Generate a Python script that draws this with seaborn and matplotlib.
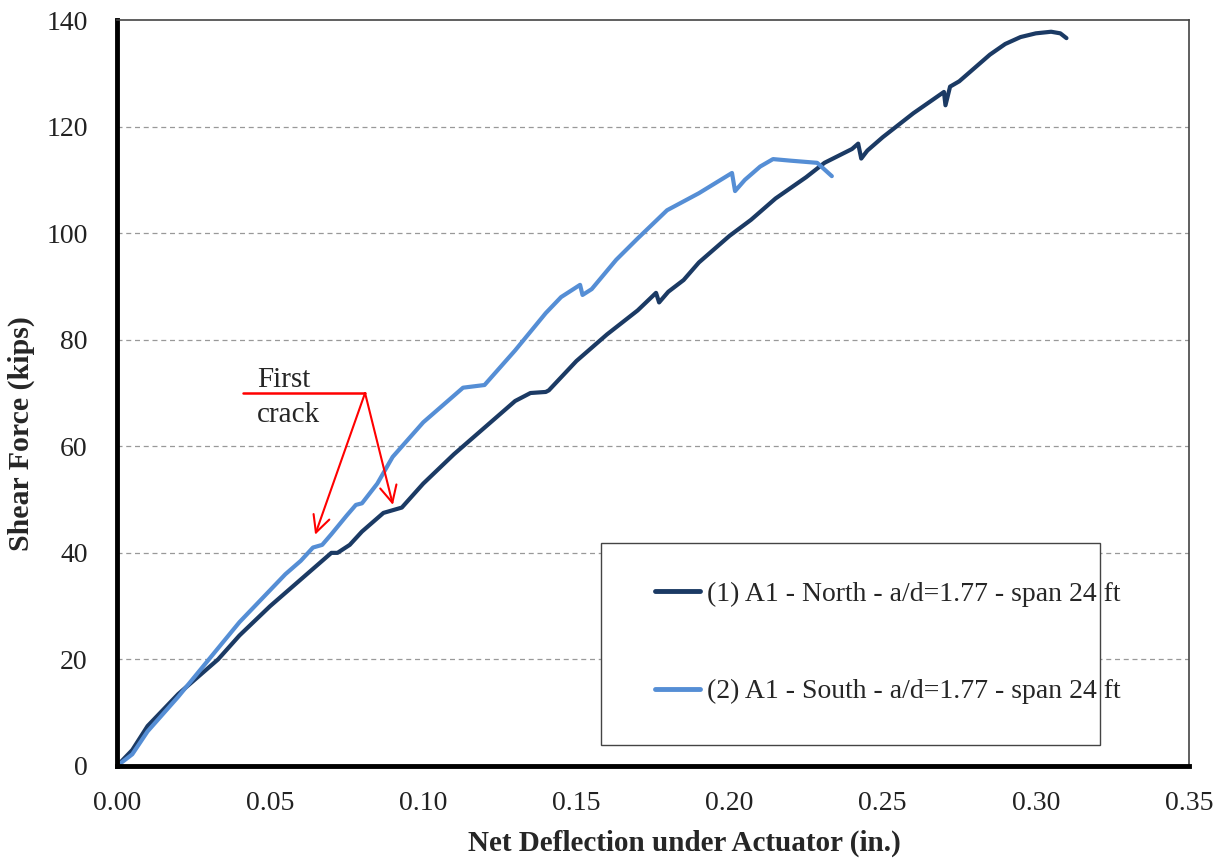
import numpy as np
import pandas as pd
import matplotlib
matplotlib.use("Agg")
import matplotlib.pyplot as plt
from matplotlib.patches import Rectangle
import seaborn as sns

# ---- data ----
north_x = [0.000, 0.005, 0.010, 0.020, 0.033, 0.040, 0.050, 0.060, 0.065, 0.070, 0.072, 0.076,
           0.080, 0.087, 0.090, 0.093, 0.100, 0.110, 0.120, 0.130, 0.135, 0.140, 0.141,
           0.150, 0.160, 0.170, 0.176, 0.177, 0.180, 0.185, 0.190, 0.200, 0.207, 0.215,
           0.225, 0.231, 0.240, 0.242, 0.243, 0.245, 0.250, 0.260, 0.270, 0.2705, 0.272,
           0.275, 0.280, 0.285, 0.290, 0.295, 0.300, 0.305, 0.308, 0.310]
north_y = [0.0, 3.0, 7.5, 13.5, 20.0, 24.5, 30.0, 35.0, 37.5, 40.0, 40.0, 41.5,
           44.0, 47.5, 48.0, 48.5, 53.0, 58.5, 63.5, 68.5, 70.0, 70.2, 70.5,
           76.0, 81.0, 85.5, 88.8, 87.0, 89.0, 91.2, 94.5, 99.5, 102.5, 106.5,
           110.5, 113.2, 115.8, 116.8, 114.0, 115.5, 118.0, 122.5, 126.5, 124.0, 127.5,
           128.5, 131.0, 133.5, 135.5, 136.8, 137.5, 137.8, 137.5, 136.6]

south_x = [0.000, 0.005, 0.010, 0.020, 0.030, 0.040, 0.050, 0.055, 0.060, 0.064, 0.067,
           0.070, 0.075, 0.078, 0.080, 0.085, 0.090, 0.100, 0.110, 0.113, 0.120, 0.130,
           0.140, 0.145, 0.1512, 0.152, 0.155, 0.163, 0.170, 0.1796, 0.190, 0.2008,
           0.2018, 0.205, 0.210, 0.2142, 0.220, 0.2286, 0.2334]
south_y = [0.0, 2.2, 6.5, 13.0, 20.0, 27.0, 33.0, 36.0, 38.5, 41.0, 41.5,
           43.5, 47.0, 49.0, 49.3, 53.0, 58.0, 64.5, 69.5, 71.0, 71.5, 78.0,
           85.0, 88.0, 90.3, 88.4, 89.5, 95.0, 99.0, 104.3, 107.5, 111.3,
           107.9, 110.0, 112.5, 113.9, 113.6, 113.2, 110.7]

labels = ["(1) A1 - North - a/d=1.77 - span 24 ft",
          "(2) A1 - South - a/d=1.77 - span 24 ft"]
colors = ["#1B3A64", "#558ED5"]

df = pd.concat([
    pd.DataFrame({"x": north_x, "y": north_y, "series": labels[0]}),
    pd.DataFrame({"x": south_x, "y": south_y, "series": labels[1]}),
])

sns.set_theme(style="white")
plt.rcParams["font.family"] = ["Liberation Serif", "DejaVu Serif"]

fig = plt.figure(figsize=(12.26, 8.63), dpi=100)
ax = fig.add_axes([0.0954, 0.1124, 0.8744, 0.8644])

sns.lineplot(data=df, x="x", y="y", hue="series", palette=colors, sort=False,
             estimator=None, linewidth=3.0, ax=ax, legend=True)

ax.set_xlim(0, 0.35)
ax.set_ylim(0, 140)
ax.set_xticks(np.arange(0, 0.351, 0.05))
ax.set_xticklabels([f"{v:.2f}" for v in np.arange(0, 0.351, 0.05)])
ax.set_yticks(np.arange(0, 141, 20))
ax.tick_params(axis="both", labelsize=20, colors="#222222")
ax.tick_params(axis="y", direction="out", length=7, width=3, pad=14)
ax.tick_params(axis="x", direction="inout", length=10, width=3, pad=13)
for yv in range(20, 140, 20):
    ax.axhline(yv, color="#999999", lw=0.9, ls=(0, (4, 3)), zorder=0)

for s in ["left", "bottom"]:
    ax.spines[s].set_linewidth(3.5)
    ax.spines[s].set_color("black")
for s in ["top", "right"]:
    ax.spines[s].set_linewidth(1.2)
    ax.spines[s].set_color("#444444")

ax.set_xlabel("Net Deflection under Actuator (in.)", fontsize=21, fontweight="bold")
ax.xaxis.set_label_coords(0.529, -0.086)
ax.set_ylabel("Shear Force (kips)", fontsize=21.5, fontweight="bold")
ax.yaxis.set_label_coords(-0.076, 0.445)

# annotation
ax.plot([0.041, 0.081], [70.0, 70.0], color="red", lw=1.8)
for tx, ty in [(0.0647, 43.4), (0.0901, 49.0)]:
    ax.annotate("", xy=(tx, ty), xytext=(0.081, 70.0),
                arrowprops=dict(arrowstyle="->", color="red", lw=1.5,
                                mutation_scale=30, shrinkA=0, shrinkB=0))
ax.text(0.0457, 71.1, "First", fontsize=21, ha="left", va="baseline")
ax.text(0.0457, 68.3, "crack", fontsize=21, ha="left", va="top")

# legend box
ax.add_patch(Rectangle((0.4515, 0.028), 0.4655, 0.271, transform=ax.transAxes,
                       facecolor="white", edgecolor="#444444", lw=1.0, zorder=4))
leg = ax.legend(loc="center left", bbox_to_anchor=(0.5019, 0.165),
                fontsize=20, frameon=False, labelspacing=2.6, borderpad=0,
                handlelength=1.62, handletextpad=0.25, borderaxespad=0)
leg.set_zorder(5)
for line in leg.get_lines():
    line.set_linewidth(3.5)

fig.savefig("out.png", dpi=100)
